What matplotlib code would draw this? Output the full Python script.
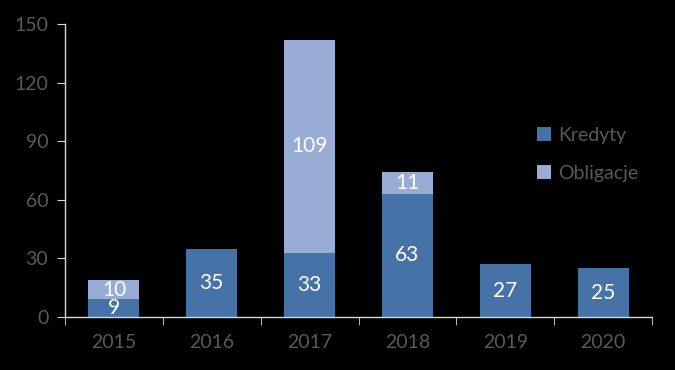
import matplotlib.pyplot as plt
import numpy as np

years = ["2015", "2016", "2017", "2018", "2019", "2020"]
kredyty = [9, 35, 33, 63, 27, 25]
obligacje = [10, 0, 109, 11, 0, 0]

plt.rcParams['font.family'] = ['Lato', 'DejaVu Sans']

fig = plt.figure(figsize=(6.75, 3.7), dpi=100, facecolor='black')
ax = fig.add_axes([0.0963, 0.1432, 0.8697, 0.7918])
ax.set_facecolor('black')

x = np.arange(len(years))
w = 0.52
c_kred = '#4572a7'
c_obl = '#98acd5'

ax.bar(x, kredyty, w, color=c_kred, label='Kredyty')
ax.bar(x, obligacje, w, bottom=kredyty, color=c_obl, label='Obligacje')

# value labels inside the segments
for i in range(len(years)):
    ax.text(x[i], kredyty[i] / 2, str(kredyty[i]), ha='center', va='center',
            color='white', fontsize=15)
    if obligacje[i] > 0:
        ax.text(x[i], kredyty[i] + obligacje[i] / 2, str(obligacje[i]),
                ha='center', va='center', color='white', fontsize=15)

ax.set_xlim(-0.5, len(years) - 0.5)
ax.set_ylim(0, 150)
ax.set_yticks(range(0, 151, 30))
ax.set_xticks(x)
ax.set_xticklabels(years)
ax.set_xticks(np.arange(-0.5, len(years)), minor=True)

for s in ['top', 'right']:
    ax.spines[s].set_visible(False)
for s in ['left', 'bottom']:
    ax.spines[s].set_color('#d9d9d9')
    ax.spines[s].set_linewidth(1.0)

ax.tick_params(axis='y', colors='#d9d9d9', labelcolor='#595959', labelsize=14,
               length=6, direction='out', pad=6)
ax.tick_params(axis='x', which='major', length=0, labelcolor='#595959',
               labelsize=14, pad=12)
ax.tick_params(axis='x', which='minor', colors='#d9d9d9', length=6,
               direction='out')

leg = ax.legend(loc='upper left', bbox_to_anchor=(0.775, 0.71), frameon=False,
                fontsize=14, labelcolor='#595959', handlelength=0.7,
                handleheight=0.7, handletextpad=0.35, labelspacing=1.1)

fig.savefig('out.png', dpi=100, facecolor='black')
